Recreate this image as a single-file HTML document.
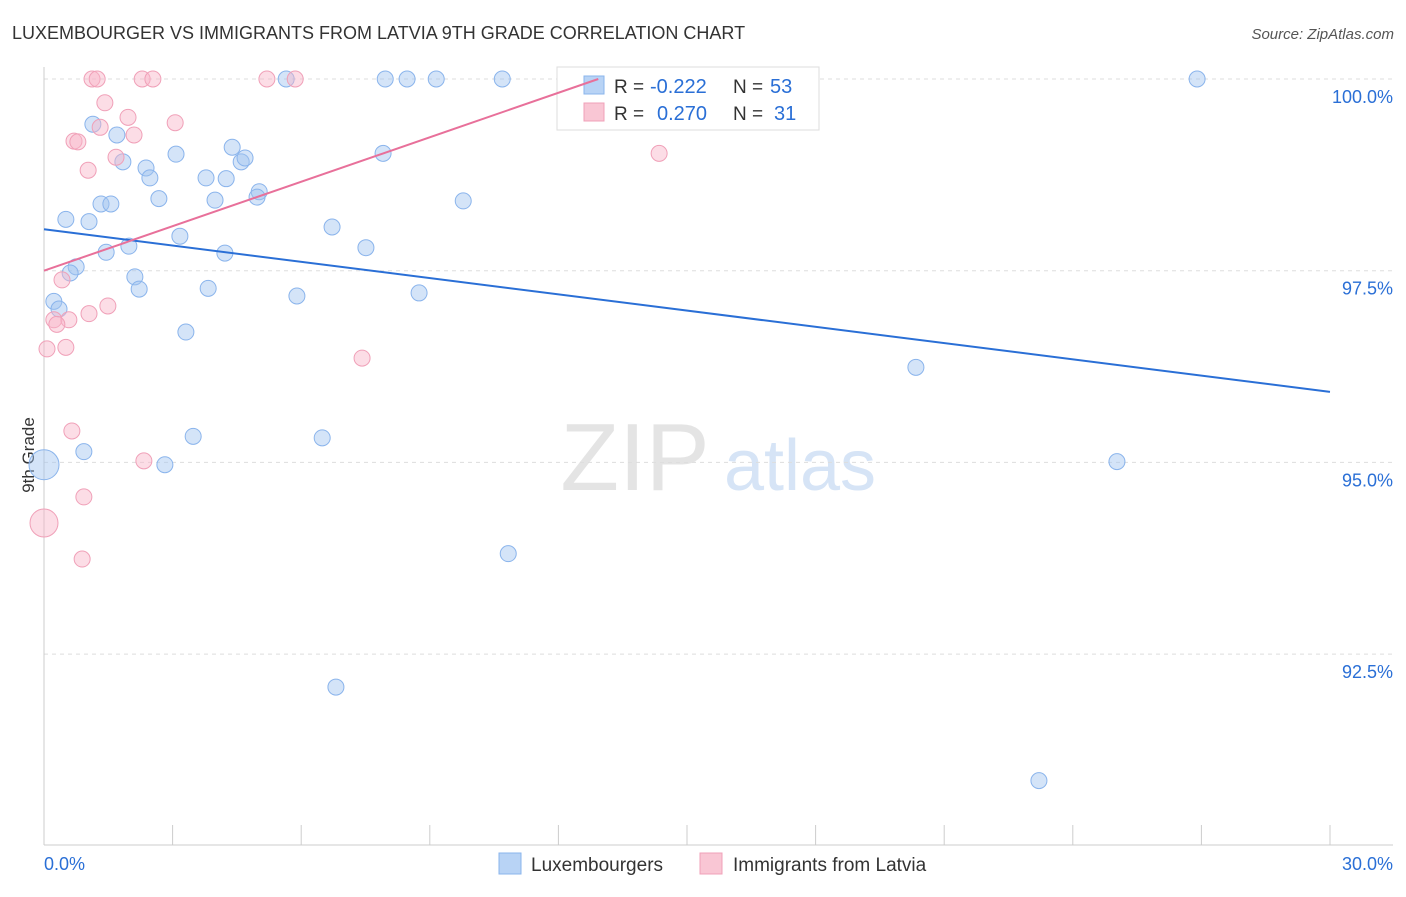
<!DOCTYPE html>
<html><head><meta charset="utf-8"><style>
body{margin:0;background:#fff;font-family:"Liberation Sans",sans-serif}
svg text{font-family:"Liberation Sans",sans-serif}
</style></head><body>
<svg id="c" width="1406" height="892" xmlns="http://www.w3.org/2000/svg">
<text x="12" y="39" font-size="18" fill="#333">LUXEMBOURGER VS IMMIGRANTS FROM LATVIA 9TH GRADE CORRELATION CHART</text>
<text x="1394" y="39" font-size="15" fill="#555" font-style="italic" text-anchor="end">Source: ZipAtlas.com</text>
<text x="34" y="455" font-size="17" fill="#333" text-anchor="middle" transform="rotate(-90 34 455)">9th Grade</text>
<g><text x="635" y="490" font-size="96" fill="#e4e4e4" font-family="Liberation Serif" text-anchor="middle">ZIP</text><text x="800" y="490" font-size="72" fill="#d6e4f6" text-anchor="middle">atlas</text></g>
<g id="grid"></g>
<g>
<rect x="557" y="67" width="262" height="63" fill="#fff" stroke="#ddd"/>
<rect x="584" y="76" width="20" height="18" fill="#b8d3f5" stroke="#8ab4ec"/>
<rect x="584" y="103" width="20" height="18" fill="#f9c6d4" stroke="#f0a0b8"/>
<text x="614" y="93" font-size="19" fill="#333">R =</text>
<text x="650" y="93" font-size="20" fill="#2a6fd6">-0.222</text>
<text x="733" y="93" font-size="19" fill="#333">N =</text>
<text x="770" y="93" font-size="20" fill="#2a6fd6">53</text>
<text x="614" y="120" font-size="19" fill="#333">R =</text>
<text x="657" y="120" font-size="20" fill="#2a6fd6">0.270</text>
<text x="733" y="120" font-size="19" fill="#333">N =</text>
<text x="774" y="120" font-size="20" fill="#2a6fd6">31</text>
</g>
<g id="marks"></g><g id="lines"></g>
<g>
<rect x="499" y="853" width="22" height="21" fill="#b8d3f5" stroke="#8ab4ec"/>
<text x="531" y="871" font-size="19" fill="#333">Luxembourgers</text>
<rect x="700" y="853" width="22" height="21" fill="#f9c6d4" stroke="#f0a0b8"/>
<text x="733" y="871" font-size="19" fill="#333">Immigrants from Latvia</text>
</g>
</svg>
<script>
const yTicks=[100,97.5,95,92.5];
const yTickLabels=["100.0%","97.5%","95.0%","92.5%"];
const xTickLabels=["0.0%","30.0%"];
const blueX=[7.96,8.47,9.15,10.69,26.90,5.65,1.14,1.70,1.84,2.38,2.47,3.08,3.78,4.25,4.39,4.60,4.69,5.02,4.97,3.99,2.68,1.33,1.56,0.51,1.05,3.17,4.22,1.45,1.98,6.72,7.51,7.91,9.78,0.75,0.61,2.12,2.22,3.83,5.90,8.75,0.23,0.35,3.31,20.34,0.93,3.48,2.82,6.49,0,25.03,10.83,6.81,23.21];
const blueY=[100,100,100,100,100,100,99.41,99.27,98.92,98.84,98.71,99.02,98.71,98.70,99.11,98.92,98.97,98.53,98.46,98.42,98.44,98.37,98.37,98.17,98.14,97.95,97.73,97.74,97.82,98.07,97.80,99.03,98.41,97.55,97.47,97.42,97.26,97.27,97.17,97.21,97.10,97.00,96.70,96.24,95.14,95.34,94.97,95.32,94.97,95.01,93.81,92.07,90.85];
const pinkX=[1.12,1.24,2.29,2.54,5.20,5.86,1.42,1.96,3.06,1.31,0.70,0.79,2.10,1.68,1.03,14.35,0.42,1.49,1.05,0.23,0.58,0.30,0.07,0.51,7.42,0.65,2.33,0.93,0.89,0];
const pinkY=[100,100,100,100,100,100,99.69,99.50,99.43,99.37,99.19,99.18,99.27,98.98,98.81,99.03,97.38,97.04,96.94,96.86,96.86,96.80,96.48,96.50,96.36,95.41,95.02,94.55,93.74,94.21];
const blueTrend=[98.04,95.92];
const pinkTrend=[97.50,100.0,12.93];
const sx=v=>44+v/30*1286, sy=v=>79+(100-v)*76.68;
const NS="http://www.w3.org/2000/svg";
function mk(t,a,p){const e=document.createElementNS(NS,t);for(const k in a)e.setAttribute(k,a[k]);p.appendChild(e);return e;}
const g=document.getElementById('grid');
yTicks.forEach((t,i)=>{
 const l=mk('line',{x1:44,x2:1393,y1:sy(t),y2:sy(t),stroke:'#ddd','stroke-dasharray':'4,4'},g);
 
 
 const tx=mk('text',{x:1393,y:sy(t)+24,'font-size':18,fill:'#2a6fd6','text-anchor':'end'},g);tx.textContent=yTickLabels[i];
 
 
});
mk('line',{x1:44,x2:44,y1:67,y2:845,stroke:'#ccc'},g);
mk('line',{x1:44,x2:1393,y1:845,y2:845,stroke:'#ccc'},g);
for(let i=0;i<=10;i++){const t=mk('line',{x1:sx(i*3),x2:sx(i*3),y1:825,y2:845,stroke:'#ccc'},g);
 
 }
[[0,'start',44],[30,'end',1393]].forEach((d,i)=>{const t=mk('text',{x:d[2],y:870,'font-size':18,fill:'#2a6fd6','text-anchor':d[1]},g);t.textContent=xTickLabels[i];
 
 });
const m=document.getElementById('marks');
blueX.forEach((x,i)=>{const c=mk('circle',{cx:sx(x),cy:sy(blueY[i]),r:x===0?15:8,fill:'rgba(160,196,240,0.45)',stroke:'#8ab4ec','stroke-width':1},m);
 
 });
pinkX.forEach((x,i)=>{const c=mk('circle',{cx:sx(x),cy:sy(pinkY[i]),r:x===0?14:8,fill:'rgba(248,180,200,0.45)',stroke:'#f0a0b8','stroke-width':1},m);
 
 });
const L=document.getElementById('lines');
const bl=mk('line',{x1:sx(0),y1:sy(blueTrend[0]),x2:sx(30),y2:sy(blueTrend[1]),stroke:'#2a6fd6','stroke-width':2},L);


const pl=mk('line',{x1:sx(0),y1:sy(pinkTrend[0]),x2:sx(pinkTrend[2]),y2:sy(pinkTrend[1]),stroke:'#e8709a','stroke-width':2},L);


</script>
</body></html>
